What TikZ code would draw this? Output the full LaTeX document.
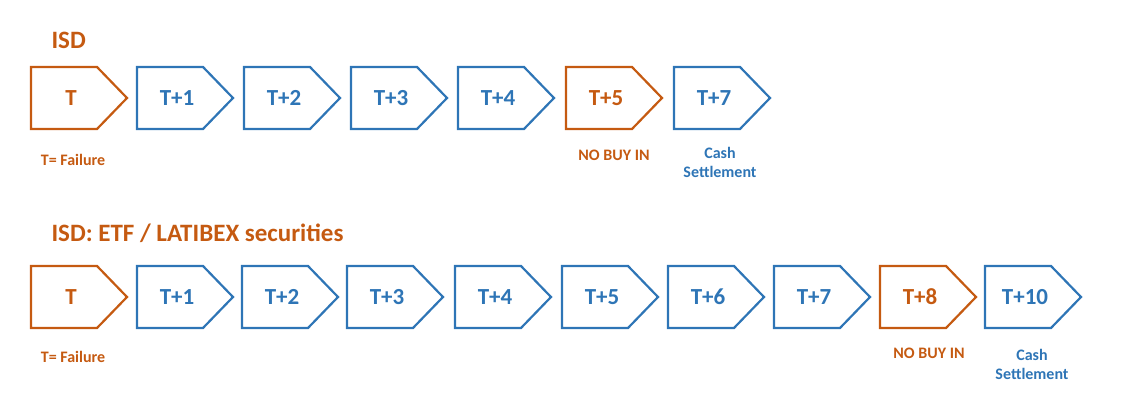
\documentclass[tikz,border=0pt]{standalone}
\usepackage{fontspec}
\setmainfont{Carlito}
\definecolor{org}{HTML}{C55A11}
\definecolor{blu}{HTML}{2E75B6}
\begin{document}
\begin{tikzpicture}[x=1pt,y=1pt,
  box/.style={line width=2.2pt,line join=miter},
  lab/.style={font=\bfseries\fontsize{23}{25}\selectfont},
  note/.style={font=\bfseries\fontsize{16}{19}\selectfont,align=center}]
\useasboundingbox (0,0) rectangle (1124,412);
\newcommand\chev[5]{% x, ytop, color, text, name
  \draw[box,#3] (#1,#2) -- (#1+66,#2) -- (#1+96,#2-31) -- (#1+66,#2-62) -- (#1,#2-62) -- cycle;
  \node[lab,text=#3] (#5) at (#1+40,#2-31) {#4};}
% top row
\node[anchor=west,text=org,font=\bfseries\fontsize{25}{27}\selectfont] (t1) at (48,372) {ISD};
\chev{31}{345}{org}{T}{a0}
\chev{137}{345}{blu}{T+1}{a1}
\chev{244}{345}{blu}{T+2}{a2}
\chev{351}{345}{blu}{T+3}{a3}
\chev{458}{345}{blu}{T+4}{a4}
\chev{566}{345}{org}{T+5}{a5}
\chev{674}{345}{blu}{T+7}{a6}
\node[note,text=org] (n1) at (73,252) {T= Failure};
\node[note,text=org] (n2) at (614,257) {NO BUY IN};
\node[note,text=blu] (n3) at (720,250) {Cash\\Settlement};
% bottom row
\node[anchor=west,text=org,font=\bfseries\fontsize{25}{27}\selectfont] (t2) at (48,179) {ISD: ETF / LATIBEX securities};
\chev{31}{146}{org}{T}{b0}
\chev{137}{146}{blu}{T+1}{b1}
\chev{242}{146}{blu}{T+2}{b2}
\chev{347}{146}{blu}{T+3}{b3}
\chev{455}{146}{blu}{T+4}{b4}
\chev{562}{146}{blu}{T+5}{b5}
\chev{668}{146}{blu}{T+6}{b6}
\chev{774}{146}{blu}{T+7}{b7}
\chev{880}{146}{org}{T+8}{b8}
\chev{985}{146}{blu}{T+10}{b9}
\node[note,text=org] (m1) at (73,55) {T= Failure};
\node[note,text=org] (m2) at (929,59) {NO BUY IN};
\node[note,text=blu] (m3) at (1032,48) {Cash\\Settlement};
\end{tikzpicture}
\end{document}
